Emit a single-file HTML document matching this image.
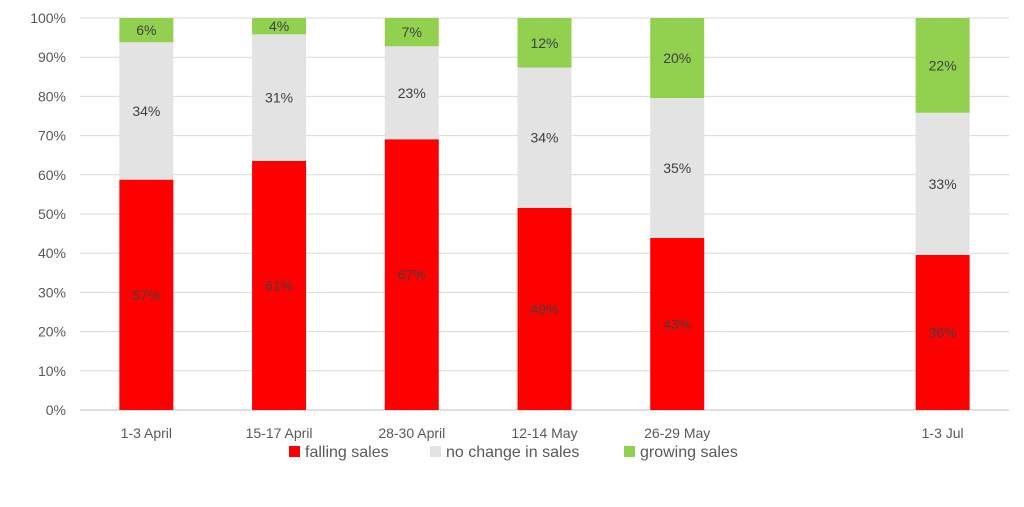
<!DOCTYPE html>
<html><head><meta charset="utf-8">
<style>
html,body{margin:0;padding:0;background:#fff;}
svg text{font-family:"Liberation Sans",sans-serif;}
</style></head>
<body>
<svg id="chart" width="1024" height="502" xmlns="http://www.w3.org/2000/svg">
<g id="grid"></g>
<g id="yaxis"></g>
<g id="bars"></g>
<g id="xaxis"></g>
<g id="legend">
  <g>
    <rect x="289" y="446" width="11" height="11" fill="#ff0000"></rect>
    <text x="305" y="457" font-size="16" fill="#595959">falling sales</text>
  </g>
  <g>
    <rect x="430" y="446" width="11" height="11" fill="#e3e3e3"></rect>
    <text x="446" y="457" font-size="16" fill="#595959">no change in sales</text>
  </g>
  <g>
    <rect x="624" y="446" width="11" height="11" fill="#92d050"></rect>
    <text x="640" y="457" font-size="16" fill="#595959">growing sales</text>
  </g>
</g>
</svg>
<script>
const categories = ["1-3 April","15-17 April","28-30 April","12-14 May","26-29 May","","1-3 Jul"];
const falling = [57,61,67,49,43,null,36];
const noChange = [34,31,23,34,35,null,33];
const growing = [6,4,7,12,20,null,22];
const yTicks = [0,10,20,30,40,50,60,70,80,90,100];

const NS="http://www.w3.org/2000/svg";
const plotL=80, plotR=1009, y0=410, y100=18;
const slot=(plotR-plotL)/categories.length, barW=54;
const yScale=v=>y0-(y0-y100)*v/100;
const xCenter=i=>plotL+slot*(i+0.5);
function mk(tag,attrs,parent){const e=document.createElementNS(NS,tag);for(const k in attrs)e.setAttribute(k,attrs[k]);parent.appendChild(e);return e;}
const grid=document.getElementById('grid'),ya=document.getElementById('yaxis'),bars=document.getElementById('bars'),xa=document.getElementById('xaxis');
yTicks.forEach(t=>{
  const y=yScale(t);
  const l=mk('line',{x1:plotL,x2:plotR,y1:y,y2:y,stroke:t===0?'#bfbfbf':'#d9d9d9','stroke-width':1},grid);
  
  
  const tx=mk('text',{x:66,y:y+5,'text-anchor':'end','font-size':14,fill:'#595959'},ya);
  tx.textContent=t+'%';
  
  
});
const series=[{d:falling,c:'#ff0000',n:'falling'},{d:noChange,c:'#e3e3e3',n:'no-change'},{d:growing,c:'#92d050',n:'growing'}];
categories.forEach((cat,i)=>{
  if(cat!==''){
    const tx=mk('text',{x:xCenter(i),y:438,'text-anchor':'middle','font-size':14,fill:'#595959'},xa);
    tx.textContent=cat;
    
    
  }
  if(falling[i]==null) return;
  const total=falling[i]+noChange[i]+growing[i];
  let cum=0;
  series.forEach(s=>{
    const v=s.d[i], pct=v/total*100;
    const yt=yScale(cum+pct), yb=yScale(cum);
    const r=mk('rect',{x:xCenter(i)-barW/2,y:yt,width:barW,height:yb-yt,fill:s.c},bars);
    
    
    const lt=mk('text',{x:xCenter(i),y:(yt+yb)/2+5,'text-anchor':'middle','font-size':14,fill:'#404040'},bars);
    lt.textContent=v+'%';
    
    
    cum+=pct;
  });
});
</script>
</body></html>
